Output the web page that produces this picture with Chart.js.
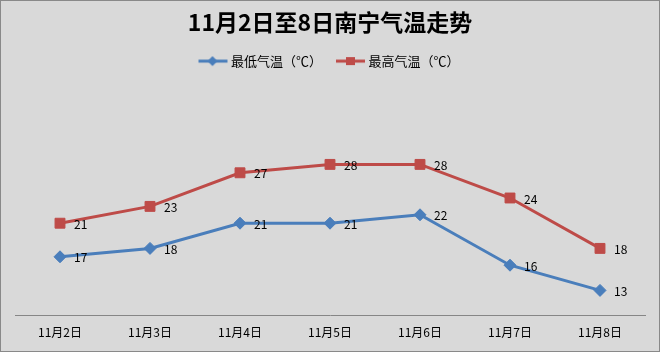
<!DOCTYPE html>
<html>
<head>
<meta charset="utf-8">
<script src="https://cdn.jsdelivr.net/npm/chart.js@4"></script>
<style>
  body { margin: 0; }
  #wrap {
    position: relative;
    width: 660px;
    height: 352px;
    background: #d9d9d9;
    outline: 1px solid #898989;
    outline-offset: -1px;
  }
</style>
</head>
<body>
<div id="wrap"><canvas id="tempChart"></canvas></div>
<script>
// data
const days = ['11月2日', '11月3日', '11月4日', '11月5日', '11月6日', '11月7日', '11月8日'];
const lowTemps = [17, 18, 21, 21, 22, 16, 13];
const highTemps = [21, 23, 27, 28, 28, 24, 18];

const blue = '#4a7ebb';
const red = '#be4b48';
const cjk = '"Noto Sans CJK SC", "Noto Sans", sans-serif';

// legend sample: short line with the marker on it
function legendIcon(color, shape) {
  const c = document.createElement('canvas');
  c.width = 32;
  c.height = 12;
  const g = c.getContext('2d');
  g.strokeStyle = color;
  g.lineWidth = 3;
  g.beginPath();
  g.moveTo(2, 6);
  g.lineTo(31, 6);
  g.stroke();
  g.fillStyle = color;
  if (shape === 'diamond') {
    g.beginPath();
    g.moveTo(16, 1);
    g.lineTo(21, 6);
    g.lineTo(16, 11);
    g.lineTo(11, 6);
    g.closePath();
    g.fill();
  } else {
    g.fillRect(12, 2, 9, 8);
  }
  return c;
}
const icons = [legendIcon(blue, 'diamond'), legendIcon(red, 'square')];

// value labels to the right of each point
const valueLabels = {
  id: 'valueLabels',
  afterDatasetsDraw(chart) {
    const ctx = chart.ctx;
    ctx.save();
    ctx.font = '12px ' + cjk;
    ctx.fillStyle = '#000';
    ctx.textBaseline = 'middle';
    chart.data.datasets.forEach((ds, i) => {
      chart.getDatasetMeta(i).data.forEach((pt, j) => {
        ctx.fillText(ds.data[j], pt.x + 14, pt.y + 1);
      });
    });
    ctx.restore();
  }
};

// extra room under the legend
const legendGap = {
  id: 'legendGap',
  beforeInit(chart) {
    const fit = chart.legend.fit;
    chart.legend.fit = function () {
      fit.bind(chart.legend)();
      this.height += 70;
    };
  }
};

const ctx = document.getElementById('tempChart');

new Chart(ctx, {
  type: 'line',
  data: {
    labels: days,
    datasets: [{
      label: '最低气温（℃）',
      data: lowTemps,
      borderColor: blue,
      backgroundColor: blue,
      borderWidth: 3,
      pointStyle: 'rectRot',
      pointRadius: 6,
      pointHoverRadius: 6,
      pointBorderWidth: 1,
      tension: 0
    }, {
      label: '最高气温（℃）',
      data: highTemps,
      borderColor: red,
      backgroundColor: red,
      borderWidth: 3,
      pointStyle: 'rect',
      pointRadius: 7,
      pointHoverRadius: 7,
      pointBorderWidth: 1,
      tension: 0
    }]
  },
  options: {
    responsive: true,
    maintainAspectRatio: false,
    animation: false,
    layout: {
      padding: { left: 15, right: 15, bottom: 2 }
    },
    plugins: {
      title: {
        display: true,
        text: '11月2日至8日南宁气温走势',
        color: '#000',
        font: { family: cjk, size: 23, weight: 'bold' },
        padding: { top: 8, bottom: 3 }
      },
      legend: {
        labels: {
          color: '#000',
          font: { family: cjk, size: 13 },
          usePointStyle: true,
          pointStyleWidth: 24,
          padding: 16,
          generateLabels(chart) {
            return chart.data.datasets.map((ds, i) => ({
              text: ds.label,
              pointStyle: icons[i],
              fillStyle: ds.borderColor,
              strokeStyle: ds.borderColor,
              lineWidth: 0,
              datasetIndex: i
            }));
          }
        }
      },
      tooltip: { enabled: false }
    },
    scales: {
      x: {
        offset: true,
        grid: { display: false, drawTicks: false, offset: true },
        border: { display: true, color: '#868686', width: 1 },
        ticks: {
          color: '#000',
          font: { family: cjk, size: 12 },
          padding: 10
        }
      },
      y: {
        display: false,
        min: 10,
        max: 30
      }
    }
  },
  plugins: [valueLabels, legendGap]
});
</script>
</body>
</html>
